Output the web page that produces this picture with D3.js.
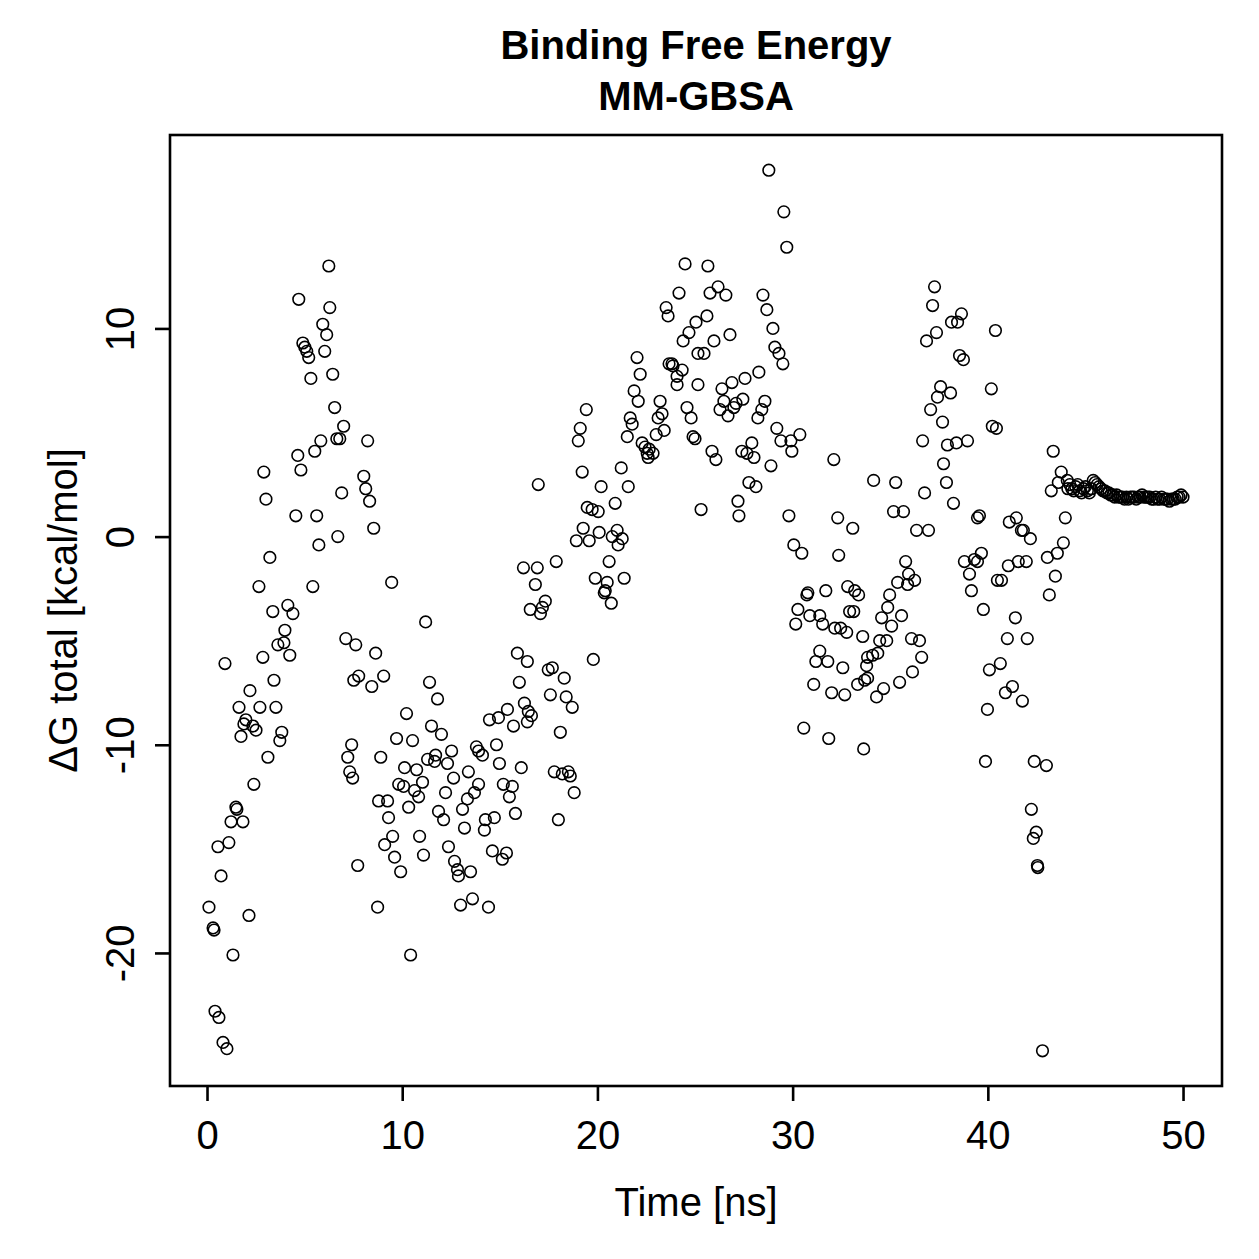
<!DOCTYPE html>
<html>
<head>
<meta charset="utf-8">
<script src="https://cdn.jsdelivr.net/npm/d3@7"></script>
<style>
  html, body { margin: 0; padding: 0; background: #fff; }
  svg { display: block; }
  text { font-family: "Liberation Sans", Arial, Helvetica, sans-serif; fill: #000; }
</style>
</head>
<body>
<script>
// [time (ns), ΔG total (kcal/mol)]
const seg0to8 = [
  [6.24,13.0],[4.70,11.4],[6.29,11.0],[5.93,10.2],[6.13,9.7],[4.91,9.3],[5.01,9.1],[5.11,8.9],[5.21,8.6],[6.03,8.9],
  [5.32,7.6],[6.44,7.8],[6.54,6.2],[7.00,5.3],[6.65,4.7],[6.80,4.7],[5.83,4.6],[4.65,3.9],[5.52,4.1],[2.91,3.1],
  [4.81,3.2],[3.02,1.8],[6.90,2.1],[4.55,1.0],[5.62,1.0],[6.70,0.0],[5.73,-0.4],[3.22,-1.0],[2.66,-2.4],[5.42,-2.4],
  [4.14,-3.3],[4.40,-3.7],[3.37,-3.6],
  [0.92,-6.1],[2.86,-5.8],[3.99,-4.5],[3.63,-5.2],[3.94,-5.1],[4.24,-5.7],[3.43,-6.9],[2.20,-7.4],[1.64,-8.2],[2.71,-8.2],
  [3.53,-8.2],[1.99,-8.8],[1.89,-9.0],[2.35,-9.1],[2.51,-9.3],[1.74,-9.6],[3.83,-9.4],[3.73,-9.8],[3.12,-10.6],[2.40,-11.9],
  [1.48,-13.0],[1.53,-13.1],[1.23,-13.7],[1.84,-13.7],[0.56,-14.9],[1.12,-14.7],[0.72,-16.3],[0.10,-17.8],[2.15,-18.2],[0.31,-18.8],
  [0.36,-18.9],[1.33,-20.1],[0.41,-22.8],[0.61,-23.1],[0.82,-24.3],[1.02,-24.6],[7.11,-4.9],[7.62,-5.2],[7.52,-6.9],[7.77,-6.7],
  [7.41,-10.0],[7.21,-10.6],[7.31,-11.3],[7.46,-11.6],[7.72,-15.8]
];
const seg8to17 = [
  [8.23,4.6],[8.03,2.9],[8.13,2.3],[8.33,1.7],[8.54,0.4],[9.46,-2.2],[16.21,-1.5],
  [11.20,-4.1],[8.64,-5.6],[8.44,-7.2],[9.05,-6.7],[11.40,-7.0],[11.81,-7.8],[10.22,-8.5],[9.71,-9.7],[10.53,-9.8],[8.90,-10.6],
  [11.50,-9.1],[12.01,-9.5],[10.12,-11.1],[10.74,-11.2],[11.04,-11.8],[9.82,-11.9],[10.07,-12.0],[10.63,-12.2],[10.84,-12.5],
  [11.30,-10.7],[11.71,-10.5],[11.66,-10.8],[12.22,-12.3],[12.32,-10.9],[12.53,-10.3],[12.63,-11.6],[13.39,-11.3],[13.91,-11.9],
  [13.70,-12.3],[13.34,-12.6],[13.09,-13.1],[8.79,-12.7],[9.25,-12.7],[10.33,-13.0],[9.30,-13.5],[11.86,-13.2],[12.12,-13.6],
  [13.19,-14.0],[14.26,-13.6],[14.72,-13.5],[14.21,-14.1],[9.51,-14.4],[9.10,-14.8],[10.89,-14.4],[12.37,-14.9],[9.61,-15.4],
  [11.09,-15.3],[9.92,-16.1],[12.68,-15.6],[12.83,-16.0],[12.88,-16.3],[13.50,-16.1],[14.62,-15.1],[15.34,-15.2],[15.13,-15.5],
  [8.74,-17.8],[10.43,-20.1],[12.99,-17.7],[13.60,-17.4],[14.42,-17.8],[13.80,-10.1],[13.91,-10.3],[14.11,-10.5],[14.83,-10.0],
  [14.98,-10.9],[16.10,-11.1],[15.18,-11.9],[15.64,-12.0],[15.49,-12.5],[15.80,-13.3],[15.39,-8.3],[14.93,-8.7],[14.47,-8.8],
  [15.70,-9.1],[15.90,-5.6],[16.41,-6.0],[16.00,-7.0],[16.26,-8.0],[16.41,-8.9],[16.46,-8.4],[16.56,-3.5]
];
const seg17to25 = [
  [24.49,13.1],[24.18,11.7],[23.52,11.0],[23.62,10.6],[25.05,10.3],[24.69,9.8],[24.39,9.4],[25.15,8.8],[23.67,8.3],[23.82,8.3],
  [23.87,8.2],[24.34,8.0],[24.08,7.7],[24.08,7.3],[25.15,7.3],[22.03,8.6],[22.19,7.8],[21.88,7.0],[22.09,6.5],[23.21,6.5],
  [23.31,5.9],[23.11,5.7],[24.59,6.2],[24.80,5.7],[21.68,5.7],[21.78,5.4],[21.53,4.8],[23.42,5.1],[23.01,4.9],[24.90,4.8],
  [25.00,4.7],[22.29,4.5],[22.44,4.3],[22.65,4.2],[22.85,4.0],[22.55,4.0],[22.60,3.8],[19.43,6.1],[19.12,5.2],[19.02,4.6],
  [19.22,3.1],[21.22,3.3],[20.19,2.4],[21.58,2.4],[20.91,1.6],[19.48,1.4],[19.73,1.3],[20.04,1.2],[19.27,0.4],[20.09,0.2],
  [21.01,0.3],[20.76,0.0],[21.27,-0.1],[21.06,-0.4],[18.92,-0.2],[19.58,-0.2],[20.60,-1.2],[19.89,-2.0],[21.37,-2.0],[20.50,-2.2],
  [20.40,-2.6],[20.35,-2.7],[20.71,-3.2],
  [16.97,2.5],[16.92,-1.5],[16.82,-2.3],[17.89,-1.2],[17.33,-3.1],[17.18,-3.4],[17.08,-3.7],
  [17.69,-6.3],[17.48,-6.4],[18.30,-6.8],[19.79,-5.9],[17.59,-7.6],[18.40,-7.7],[18.71,-8.2],[16.62,-8.6],[18.10,-9.4],
  [17.79,-11.3],[18.20,-11.4],[18.51,-11.3],[18.61,-11.5],[18.81,-12.3],[18.00,-13.6]
];
const seg25to34 = [
  [28.78,17.6],[29.55,15.6],[29.70,13.9],[25.66,13.0],[26.18,12.0],[25.77,11.7],[26.58,11.6],[28.48,11.6],[28.68,10.9],[25.61,10.6],
  [28.99,10.0],[26.79,9.7],[25.97,9.4],[29.09,9.1],[29.30,8.8],[29.50,8.3],[25.46,8.8],[28.27,7.9],[27.56,7.6],[26.89,7.4],
  [26.38,7.1],[27.45,6.6],[26.48,6.5],[27.10,6.4],[26.99,6.2],[26.28,6.1],[26.69,5.8],[28.58,6.5],[28.42,6.1],[28.22,5.7],
  [29.19,5.2],[29.40,4.6],[29.91,4.6],[30.37,4.9],[29.96,4.1],[25.87,4.1],[26.07,3.7],[27.40,4.1],[27.66,4.0],[27.91,4.5],
  [28.02,3.8],[28.89,3.4],[32.11,3.7],[27.76,2.6],[28.12,2.4],[25.31,1.3],[27.20,1.7],[27.25,1.0],[29.81,1.0],[32.31,0.9],
  [33.08,0.4],[30.06,-0.4],[30.47,-0.8],[32.36,-0.9],[30.78,-2.7],[30.73,-2.8],[31.70,-2.6],[32.82,-2.4],[33.18,-2.6],[33.38,-2.8],
  [30.27,-3.5],[30.88,-3.8],[31.39,-3.8],[32.92,-3.6],[33.13,-3.6],
  [30.16,-4.2],[31.54,-4.2],[32.16,-4.4],[32.46,-4.4],[32.77,-4.6],[33.59,-4.8],[31.39,-5.5],[31.19,-6.0],[31.80,-6.0],[32.57,-6.3],
  [33.84,-5.8],[33.79,-6.2],[31.08,-7.1],[32.00,-7.5],[32.67,-7.6],[33.33,-7.1],[33.69,-6.9],[30.57,-9.2],[31.85,-9.7],[33.64,-10.2]
];
const seg34to44 = [
  [37.27,12.0],[37.17,11.1],[38.65,10.7],[38.14,10.3],[38.45,10.3],[40.39,9.9],[37.37,9.8],[36.86,9.4],[38.55,8.7],[38.75,8.5],
  [37.58,7.2],[38.09,6.9],[37.42,6.7],[40.18,7.1],[37.07,6.1],[37.68,5.5],[40.23,5.3],[40.44,5.2],[36.66,4.6],[37.93,4.4],
  [38.39,4.5],[38.96,4.6],[37.73,3.5],[34.15,2.7],[35.28,2.6],[37.88,2.6],[36.76,2.1],[38.24,1.6],[35.17,1.2],[35.68,1.2],
  [39.47,0.9],[39.57,1.0],[36.35,0.3],[36.96,0.3],[41.10,0.7],[41.46,0.9],[41.72,0.3],[41.82,0.3],[42.18,-0.1],[35.79,-1.2],
  [35.94,-1.8],[36.25,-2.1],[35.89,-2.3],[35.38,-2.2],[34.97,-2.8],[34.87,-3.4],[34.56,-3.9],[35.58,-3.8],[38.80,-1.2],[39.31,-1.1],
  [39.67,-0.8],[39.47,-1.2],[39.06,-1.8],[39.16,-2.6],[39.77,-3.5],[41.05,-1.4],[41.56,-1.2],[41.97,-1.2],[40.49,-2.1],[40.70,-2.1],
  [41.41,-3.9],
  [35.07,-4.3],[34.46,-5.0],[34.82,-5.0],[36.09,-4.9],[36.50,-5.0],[36.61,-5.8],[34.10,-5.7],[34.36,-5.6],[33.84,-6.8],[36.14,-6.5],
  [35.48,-7.0],[34.66,-7.3],[34.30,-7.7],[41.00,-4.9],[42.02,-4.9],[40.64,-6.1],[40.08,-6.4],[41.26,-7.2],[40.90,-7.5],[41.77,-7.9],
  [39.98,-8.3],[39.88,-10.8],[42.38,-10.8],[42.23,-13.1],[42.48,-14.2],[42.33,-14.5],[42.54,-15.8],[42.56,-15.9],[42.80,-24.7],[43.00,-11.0],
  [43.35,4.1],[43.76,3.1],[43.61,2.6],[43.25,2.2],[43.97,0.9],[43.87,-0.3],[43.56,-0.8],[43.05,-1.0],[43.46,-1.9],[43.15,-2.8],[44.07,2.7]
];
const seg44to50 = [
  [44.1,2.3],[44.2,2.5],[44.3,2.3],[44.4,2.2],[44.5,2.4],[44.6,2.5],[44.7,2.2],[44.8,2.1],[44.9,2.3],[45.0,2.4],
  [45.1,2.2],[45.2,2.1],[45.3,2.3],[45.4,2.7],[45.5,2.6],[45.6,2.5],[45.7,2.4],[45.8,2.3],[45.9,2.2],[46.0,2.2],
  [46.1,2.1],[46.2,2.1],[46.3,2.0],[46.4,2.0],[46.5,1.9],[46.6,2.0],[46.7,1.9],[46.8,1.9],[46.9,1.9],[47.0,1.8],
  [47.1,1.9],[47.2,1.8],[47.3,1.9],[47.4,1.9],[47.5,1.9],[47.6,1.8],[47.7,1.9],[47.8,1.9],[47.9,2.0],[48.0,1.9],
  [48.1,1.9],[48.2,1.9],[48.3,1.9],[48.4,1.8],[48.5,1.8],[48.6,1.9],[48.7,1.8],[48.8,1.8],[48.9,1.9],[49.0,1.8],
  [49.1,1.8],[49.2,1.8],[49.3,1.7],[49.4,1.8],[49.5,1.8],[49.6,1.8],[49.7,1.9],[49.8,1.9],[49.9,2.0],[50.0,1.9]
];

const xTicks = [0, 10, 20, 30, 40, 50];
const yTicks = [-20, -10, 0, 10];
const titleLines = ["Binding Free Energy", "MM-GBSA"];
const xLabel = "Time [ns]";
const yLabel = "\u0394G total [kcal/mol]";

const data = [].concat(seg0to8, seg8to17, seg17to25, seg25to34, seg34to44, seg44to50)
  .map(d => ({ t: d[0], g: d[1] }));

const W = 1259, H = 1259;
const plot = { left: 170, right: 1222, top: 135, bottom: 1086 };
const FONT = '"Liberation Sans", Arial, Helvetica, sans-serif';

// R-style 4% padding of the data range
function padded(ext) { const p = (ext[1] - ext[0]) * 0.04; return [ext[0] - p, ext[1] + p]; }

const x = d3.scaleLinear().domain(padded(d3.extent(data, d => d.t))).range([plot.left, plot.right]);
const y = d3.scaleLinear().domain(padded(d3.extent(data, d => d.g))).range([plot.bottom, plot.top]);

const svg = d3.select("body").append("svg").attr("width", W).attr("height", H);
svg.append("rect").attr("width", W).attr("height", H).attr("fill", "#fff");

// points
svg.append("g").selectAll("circle").data(data).join("circle")
  .attr("cx", d => x(d.t)).attr("cy", d => y(d.g)).attr("r", 5.8)
  .attr("fill", "none").attr("stroke", "#000").attr("stroke-width", 1.6);

// box
svg.append("rect")
  .attr("x", plot.left).attr("y", plot.top)
  .attr("width", plot.right - plot.left).attr("height", plot.bottom - plot.top)
  .attr("fill", "none").attr("stroke", "#000").attr("stroke-width", 2.6);

const fmt = d => String(d);   // plain hyphen-minus like R

// x axis
const gx = svg.append("g").attr("transform", `translate(0,${plot.bottom})`)
  .call(d3.axisBottom(x).tickValues(xTicks).tickSize(15).tickFormat(fmt));
gx.select(".domain").remove();
gx.selectAll(".tick line").attr("stroke", "#000").attr("stroke-width", 2.6);
gx.selectAll(".tick text").attr("y", 63).attr("dy", null)
  .style("font-size", "40px").style("font-family", FONT).attr("fill", "#000");

// y axis
const gy = svg.append("g").attr("transform", `translate(${plot.left},0)`)
  .call(d3.axisLeft(y).tickValues(yTicks).tickSize(15).tickFormat(fmt));
gy.select(".domain").remove();
gy.selectAll(".tick line").attr("stroke", "#000").attr("stroke-width", 2.6);
gy.selectAll(".tick text")
  .attr("x", 0).attr("y", 0).attr("dy", null)
  .attr("text-anchor", "middle")
  .attr("transform", "translate(-36,0) rotate(-90)")
  .style("font-size", "40px").style("font-family", FONT).attr("fill", "#000");

const cx = (plot.left + plot.right) / 2;
const cy = (plot.top + plot.bottom) / 2;

// titles
svg.append("text").attr("x", cx).attr("y", 59).attr("text-anchor", "middle")
  .style("font-size", "40px").style("font-weight", "bold").text(titleLines[0]);
svg.append("text").attr("x", cx).attr("y", 110).attr("text-anchor", "middle")
  .style("font-size", "40px").style("font-weight", "bold").text(titleLines[1]);

// axis labels
svg.append("text").attr("x", cx).attr("y", 1216).attr("text-anchor", "middle")
  .style("font-size", "40px").text(xLabel);
svg.append("text").attr("transform", `translate(77,${cy}) rotate(-90)`).attr("text-anchor", "middle")
  .style("font-size", "40px").text(yLabel);
</script>
</body>
</html>
